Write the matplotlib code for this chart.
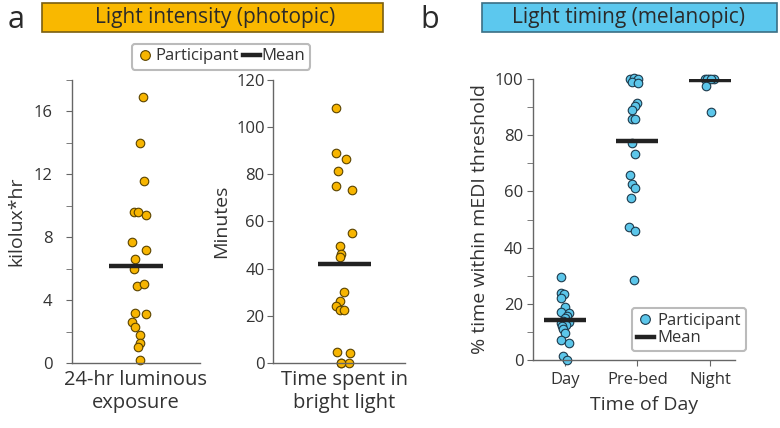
import matplotlib
matplotlib.use("Agg")
import matplotlib.pyplot as plt
from matplotlib.lines import Line2D
from matplotlib.patches import Rectangle
from matplotlib.ticker import MultipleLocator

plt.rcParams['font.family'] = ['Open Sans', 'DejaVu Sans']

# --- data ---
lux = [16.9, 14.0, 11.6, 9.6, 9.6, 9.4, 7.7, 7.2, 6.6, 6.0,
       4.9, 5.0, 3.2, 3.1, 2.6, 2.3, 1.75, 1.3, 1.0, 0.2]
lux_jit = [0.11, 0.07, 0.13, -0.03, 0.03, 0.16, -0.07, 0.16, -0.01, -0.03,
           0.02, 0.13, -0.01, 0.15, -0.07, -0.01, 0.07, 0.06, 0.03, 0.06]
lux_mean = 6.2

bright = [108.3, 89.2, 86.3, 81.3, 75.2, 73.2, 55.1, 49.5, 46.4, 45.0,
          30.1, 26.2, 24.2, 22.3, 22.3, 4.7, 4.2, 0.0, 0.0, 0.0]
bright_jit = [-0.12, -0.13, 0.02, -0.09, -0.13, 0.11, 0.12, -0.06, -0.05, -0.06,
              -0.01, -0.06, -0.12, -0.07, -0.01, -0.11, 0.09, -0.05, 0.07, -0.05]
bright_mean = 42.1

periods = ['Day', 'Pre-bed', 'Night']
day = [29.6, 24.0, 23.5, 22.0, 19.0, 17.2, 16.6, 15.5, 14.8, 14.0,
       13.5, 13.1, 12.5, 12.0, 10.9, 9.5, 7.1, 6.2, 1.4, 0.0]
day_jit = [-0.05, -0.06, -0.01, -0.05, 0.0, -0.05, 0.05, 0.03, 0.0, -0.03,
           0.06, -0.06, 0.02, -0.04, -0.02, 0.0, -0.05, 0.05, -0.02, 0.03]
prebed = [100.0, 100.5, 100.0, 99.0, 98.5, 91.4, 90.5, 89.1, 85.7, 85.7,
          77.2, 73.3, 65.7, 62.6, 61.2, 57.7, 47.5, 45.8, 28.5]
prebed_jit = [-0.10, -0.05, 0.01, -0.08, 0.01, 0.0, -0.03, -0.08, -0.08, -0.03,
              -0.08, -0.03, -0.10, -0.08, -0.04, -0.09, -0.12, -0.03, -0.05]
night = [100.0, 100.0, 100.0, 100.0, 100.0, 97.4, 88.1]
night_jit = [-0.07, -0.01, 0.05, -0.04, 0.01, -0.05, 0.02]
timing_means = [14.2, 78.1, 99.8]

yellow, yellow_edge = '#F7B500', '#5a4300'
blue, blue_edge = '#5CC6EA', '#1d3a4c'
spine_c = '#666666'
txt_c = '#333333'

fig = plt.figure(figsize=(7.8, 4.28), dpi=100)


def fx(x):
    return x / 780


def fy(y):
    return 1 - y / 428


def style(ax):
    for s in ['top', 'right']:
        ax.spines[s].set_visible(False)
    for s in ['left', 'bottom']:
        ax.spines[s].set_color(spine_c)
        ax.spines[s].set_linewidth(1.0)
    ax.tick_params(axis='both', which='both', direction='out', color=spine_c,
                   labelcolor=txt_c, labelsize=12)
    ax.tick_params(which='major', length=4)
    ax.tick_params(which='minor', length=4)
    ax.patch.set_alpha(0)


# a1: 24-hr luminous exposure
ax1 = fig.add_axes([fx(72), fy(363), fx(128), 283 / 428])
style(ax1)
ax1.scatter([1 + j for j in lux_jit], lux, s=38, c=yellow, edgecolors=yellow_edge,
            linewidths=0.8, zorder=2, clip_on=False)
ax1.plot([1 - 0.42, 1 + 0.42], [lux_mean, lux_mean], color='#222222', lw=3.2,
         solid_capstyle='butt', zorder=3)
ax1.set_xlim(0, 2)
ax1.set_ylim(0, 18)
ax1.set_yticks([0, 4, 8, 12, 16])
ax1.yaxis.set_minor_locator(MultipleLocator(2))
ax1.set_xticks([1])
ax1.set_xticklabels(['24-hr luminous\nexposure'], fontsize=14.5, color=txt_c,
                    linespacing=1.2)
ax1.set_ylabel('kilolux*hr', fontsize=14, color=txt_c, labelpad=6)
ax1.tick_params(axis='x', length=0, pad=5)
ax1.tick_params(axis='y', pad=10)

# a2: time spent in bright light
ax2 = fig.add_axes([fx(273), fy(363), fx(132), 283 / 428])
style(ax2)
ax2.scatter([1 + j for j in bright_jit], bright, s=38, c=yellow, edgecolors=yellow_edge,
            linewidths=0.8, zorder=2, clip_on=False)
ax2.plot([1 - 0.40, 1 + 0.40], [bright_mean, bright_mean], color='#222222', lw=3.2,
         solid_capstyle='butt', zorder=3)
ax2.set_xlim(-0.08, 1.92)
ax2.set_ylim(0, 120)
ax2.set_yticks(range(0, 121, 20))
ax2.set_xticks([1])
ax2.set_xticklabels(['Time spent in\nbright light'], fontsize=14.5, color=txt_c,
                    linespacing=1.2)
ax2.set_ylabel('Minutes', fontsize=14, color=txt_c, labelpad=4)
ax2.tick_params(axis='x', length=0, pad=5)
ax2.tick_params(axis='y', pad=2)

# b: light timing
ax3 = fig.add_axes([fx(533), fy(360), fx(202), 281 / 428])
style(ax3)
groups = [(day, day_jit), (prebed, prebed_jit), (night, night_jit)]
for i, (vals, jit) in enumerate(groups):
    ax3.scatter([i + 1 + j for j in jit], vals, s=38, c=blue, edgecolors=blue_edge,
                linewidths=0.8, zorder=2, clip_on=False)
    ax3.plot([i + 1 - 0.29, i + 1 + 0.29], [timing_means[i]] * 2, color='#222222',
             lw=3.2, solid_capstyle='butt', zorder=3)
ax3.set_xlim(0.56, 3.345)
ax3.set_ylim(0, 100)
ax3.set_yticks(range(0, 101, 20))
ax3.yaxis.set_minor_locator(MultipleLocator(10))
ax3.set_xticks([1, 2, 3])
ax3.set_xticklabels(periods, fontsize=12)
ax3.set_xlabel('Time of Day', fontsize=14, color=txt_c)
ax3.xaxis.set_label_coords(0.552, -0.16)
ax3.xaxis.label.set_va('center')
ax3.set_ylabel('% time within mEDI threshold', fontsize=14, color=txt_c, labelpad=4)
ax3.tick_params(axis='y', pad=3)
ax3.tick_params(axis='x', pad=5)

leg_b = ax3.legend(handles=[
    Line2D([], [], marker='o', ls='none', mfc=blue, mec=blue_edge, ms=7, mew=0.8),
    Line2D([], [], color='#222222', lw=3.2)],
    labels=['Participant', 'Mean'], loc='center',
    bbox_to_anchor=((689 - 533) / 202, (360 - 329.5) / 281),
    fontsize=12, handlelength=1.0, handletextpad=0.25, labelspacing=0.1,
    borderpad=0.3, frameon=True, fancybox=True)
leg_b.get_frame().set_edgecolor('#aaaaaa')
leg_b.get_frame().set_linewidth(1.5)
for t in leg_b.get_texts():
    t.set_color(txt_c)

# legend a
leg_a = fig.legend(handles=[
    Line2D([], [], marker='o', ls='none', mfc=yellow, mec=yellow_edge, ms=7, mew=0.8),
    Line2D([], [], color='#222222', lw=3.2)],
    labels=['Participant', 'Mean'], loc='center', ncol=2,
    bbox_to_anchor=(fx(221), fy(56.5)), fontsize=12, handlelength=1.0,
    handletextpad=0.1, columnspacing=0.3, borderpad=0.3, frameon=True, fancybox=True)
leg_a.get_frame().set_edgecolor('#aaaaaa')
leg_a.get_frame().set_linewidth(1.5)
for t in leg_a.get_texts():
    t.set_color(txt_c)

# header boxes and panel letters
fig.patches.append(Rectangle((fx(42), fy(32)), fx(341), 29 / 428, transform=fig.transFigure,
                             facecolor='#F9B800', edgecolor='#7a5f10', lw=1.2, figure=fig))
fig.patches.append(Rectangle((fx(482), fy(32)), fx(295), 29 / 428, transform=fig.transFigure,
                             facecolor='#5CC8EE', edgecolor='#3b6f85', lw=1.2, figure=fig))
fig.text(fx(215), fy(17.5), 'Light intensity (photopic)', ha='center', va='center',
         fontsize=15, color='#2a2a2a')
fig.text(fx(629), fy(17.5), 'Light timing (melanopic)', ha='center', va='center',
         fontsize=15, color='#2a2a2a')
fig.text(fx(16), fy(28), 'a', ha='center', va='baseline', fontsize=22, color='#2a2a2a')
fig.text(fx(430), fy(28), 'b', ha='center', va='baseline', fontsize=22, color='#2a2a2a')

fig.savefig('out.png', dpi=100)
